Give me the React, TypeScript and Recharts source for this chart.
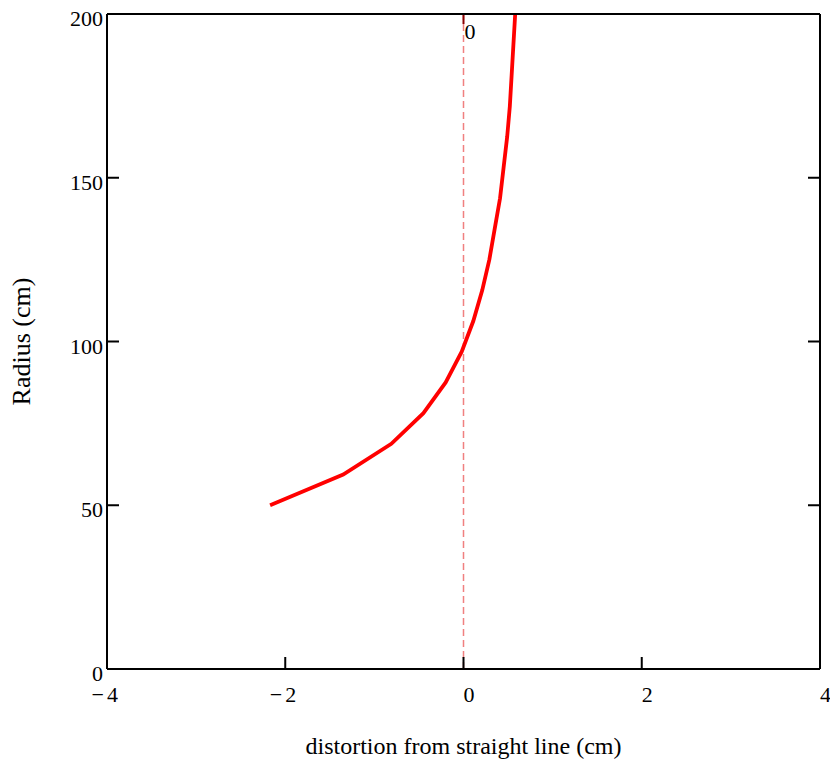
import { Label, Line, LineChart, ReferenceLine, XAxis, YAxis } from "recharts";

// radius (cm) sampled along the curve
const radius = [
  50, 59.375, 68.75, 78.125, 87.5, 96.875, 106.25, 115.625, 125, 134.375,
  143.75, 153.125, 162.5, 171.875, 181.25, 190.625, 200,
];
// distortion from straight line (cm)
const distortion = [
  -2.17, -1.35, -0.81, -0.45, -0.2, -0.02, 0.11, 0.21, 0.29, 0.35, 0.41,
  0.45, 0.49, 0.52, 0.54, 0.56, 0.58,
];
const xTicks = [-4, -2, 0, 2, 4];
const yTicks = [0, 50, 100, 150, 200];

const data = radius.map((r, i) => ({ r, d: distortion[i] }));

const FONT = "'Liberation Serif', 'Times New Roman', serif";
const FS = 22;
const TICK = 12;

// ticks point into the plot, labels sit outside
function XTick({ x, y, payload }: any) {
  const v = payload.value as number;
  const edge = v === xTicks[0] || v === xTicks[xTicks.length - 1];
  return (
    <g>
      {!edge && <line x1={x} y1={y} x2={x} y2={y - TICK} stroke="#000" strokeWidth={2} />}
      <text x={x} y={y + 33} fontSize={FS} fontFamily={FONT} fill="#000" textAnchor="start">
        {Math.abs(v)}
      </text>
      {v < 0 && (
        <text x={x - 3} y={y + 33} fontSize={FS} fontFamily={FONT} fill="#000" textAnchor="end">
          −
        </text>
      )}
    </g>
  );
}

function YTick({ x, y, payload }: any) {
  return (
    <g>
      <line x1={x} y1={y} x2={x + TICK} y2={y} stroke="#000" strokeWidth={2} />
      <text x={x - 4} y={y + 12} fontSize={FS} fontFamily={FONT} fill="#000" textAnchor="end">
        {payload.value}
      </text>
    </g>
  );
}

function RightTick({ x, y }: any) {
  return <line x1={x} y1={y} x2={x - TICK} y2={y} stroke="#000" strokeWidth={2} />;
}

function ZeroMark({ viewBox }: any) {
  const { x, y } = viewBox;
  return (
    <g>
      <line x1={x} y1={y} x2={x} y2={y + 10} stroke="#8b0000" strokeWidth={2} />
      <text x={x + 1} y={y + 25} fontSize={FS} fontFamily={FONT} fill="#000">
        0
      </text>
    </g>
  );
}

export default function App() {
  return (
    <div style={{ position: "absolute", left: 0, top: 0, fontFamily: FONT }}>
      <LineChart
        width={830}
        height={759}
        data={data}
        margin={{ top: 0, right: 0, bottom: 0, left: 0 }}
      >
        <XAxis
          xAxisId="b"
          dataKey="d"
          type="number"
          domain={[-4, 4]}
          ticks={xTicks}
          height={90}
          stroke="#000"
          strokeWidth={2}
          tickSize={0}
          tickMargin={0}
          tickLine={false}
          tick={<XTick />}
          interval={0}
          allowDataOverflow
        >
          <Label
            value="distortion from straight line (cm)"
            position="insideBottom"
            offset={5}
            style={{ fontSize: 24, fontFamily: FONT, fill: "#000" }}
          />
        </XAxis>
        <XAxis
          xAxisId="t"
          orientation="top"
          type="number"
          domain={[-4, 4]}
          height={14}
          stroke="#000"
          strokeWidth={2}
          tick={false}
          tickLine={false}
          allowDataOverflow
        />
        <YAxis
          yAxisId="l"
          type="number"
          domain={[0, 200]}
          ticks={yTicks}
          width={107}
          stroke="#000"
          strokeWidth={2}
          tickSize={0}
          tickMargin={0}
          tickLine={false}
          tick={<YTick />}
          interval={0}
          allowDataOverflow
        >
          <Label
            value="Radius (cm)"
            angle={-90}
            position="insideLeft"
            offset={21}
            style={{ fontSize: 26, fontFamily: FONT, fill: "#000", textAnchor: "middle" }}
          />
        </YAxis>
        <YAxis
          yAxisId="r"
          orientation="right"
          type="number"
          domain={[0, 200]}
          ticks={yTicks}
          width={10}
          stroke="#000"
          strokeWidth={2}
          tickSize={0}
          tickMargin={0}
          tickLine={false}
          tick={<RightTick />}
          interval={0}
          allowDataOverflow
        />
        <ReferenceLine
          xAxisId="b"
          yAxisId="l"
          x={0}
          stroke="#f08080"
          strokeWidth={1.5}
          strokeDasharray="7 4"
          label={<ZeroMark />}
        />
        <Line
          xAxisId="b"
          yAxisId="l"
          dataKey="r"
          type="linear"
          stroke="#ff0000"
          strokeWidth={3.8}
          dot={false}
          isAnimationActive={false}
        />
      </LineChart>
    </div>
  );
}
